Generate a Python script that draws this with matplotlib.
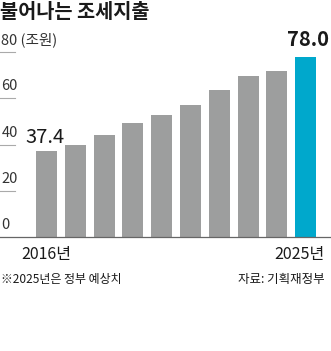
import matplotlib.pyplot as plt
from matplotlib import transforms

plt.rcParams['font.family'] = ['Noto Sans CJK KR', 'DejaVu Sans']

# 조세지출 (조원), 2016~2025
years = ['2016년', '2017년', '2018년', '2019년', '2020년', '2021년', '2022년', '2023년', '2024년', '2025년']
values = [37.4, 39.8, 44.0, 49.5, 52.8, 57.1, 63.6, 69.7, 71.6, 78.0]
yticks = [0, 20, 40, 60, 80]

gray = '#9d9e9e'
blue = '#00a8cc'
txt = '#1a1a1a'
narrow = ['Liberation Sans Narrow', 'Noto Sans CJK KR']

W, H = 331, 351
fig = plt.figure(figsize=(W / 100, H / 100), dpi=100)

# axes placed in pixels: baseline at y=237, 2.3125 px per unit
ppu = 2.3125
ymax = 90
ax = fig.add_axes([0, (H - 237) / H, 1, ymax * ppu / H])
step = 28.8
x0 = 46.5
ax.set_xlim(-x0 / step, (W - x0) / step)
ax.set_ylim(0, ymax)

xs = list(range(len(values)))
colors = [gray] * (len(values) - 1) + [blue]
ax.bar(xs, values, width=21 / step, color=colors, zorder=2)

for s in ['top', 'right', 'left']:
    ax.spines[s].set_visible(False)
ax.spines['bottom'].set_color('#666666')
ax.spines['bottom'].set_linewidth(0.9)
ax.set_xticks([])
ax.set_yticks([])

# y tick marks: short line with label above
yt = ax.get_yaxis_transform()
for v in yticks:
    if v > 0:
        ax.plot([0, 15 / W], [v, v], color='#aaaaaa', lw=0.8, transform=yt, clip_on=False)
    lab = str(v) + (' (조원)' if v == 80 else '')
    ax.annotate(lab, (0.004, v), xycoords=yt, xytext=(0, 8.6), textcoords='offset points',
                ha='left', va='center', fontsize=10.5, color='#333333', family=narrow)

# value labels
ax.annotate('37.4', (xs[0], values[0]), xytext=(-1, 9.2), textcoords='offset points',
            ha='center', va='center', fontsize=14.5, color=txt, family=narrow)
ax.annotate('78.0', (xs[-1], values[-1]), xytext=(2, 12), textcoords='offset points',
            ha='center', va='center', fontsize=14.5, fontweight='bold', color=txt, family=narrow)

# year labels
bt = transforms.blended_transform_factory(ax.transData, fig.transFigure)
ax.text(xs[0], 1 - 255 / H, years[0], transform=bt, ha='center', va='center',
        fontsize=11.5, color=txt, family=narrow)
fig.text(325 / W, 1 - 255 / H, years[-1], ha='right', va='center',
         fontsize=11.5, color=txt, family=narrow)

# title and notes
fig.text(0, 1 - 13 / H, '불어나는 조세지출', ha='left', va='center',
         fontsize=14.2, fontweight='bold', color=txt)
fig.text(1 / W, 1 - 280 / H, '※2025년은 정부 예상치', ha='left', va='center',
         fontsize=8.6, color=txt, family=narrow)
fig.text(325 / W, 1 - 280 / H, '자료: 기획재정부', ha='right', va='center',
         fontsize=9, color=txt, family=narrow)

fig.savefig('out.png', dpi=100)
